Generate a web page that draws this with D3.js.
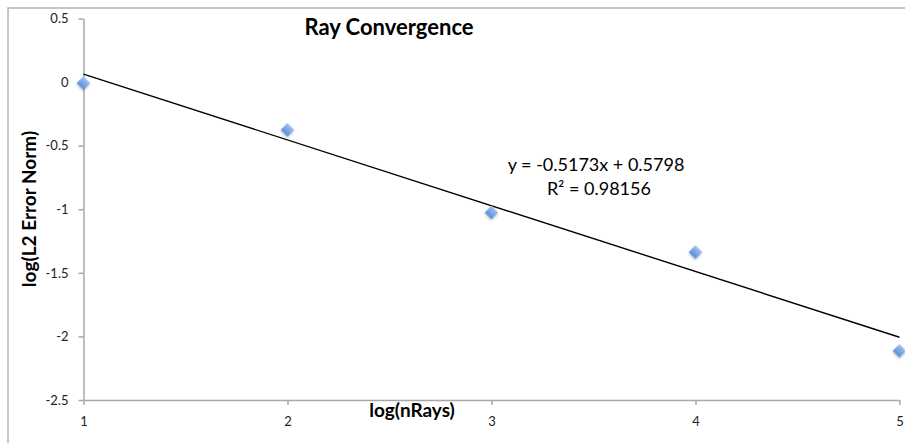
<!DOCTYPE html>
<html>
<head>
<meta charset="utf-8">
<script src="https://cdn.jsdelivr.net/npm/d3@7"></script>
<style>
  html, body { margin: 0; padding: 0; background: #fff; overflow: hidden; }
  svg { display: block; }
  .axis path, .axis line { stroke: #a8a8a8; stroke-width: 1.5; }
  .axis text { font-family: Lato, "Open Sans", sans-serif; font-size: 13px; fill: #222; }
</style>
</head>
<body>
<svg id="chart" width="905" height="443"></svg>
<script>
// Convergence study: log of ray count vs log of L2 error norm
const nRaysLog = [1, 2, 3, 4, 5];
const errorNormLog = [-0.008, -0.376, -1.026, -1.337, -2.114];

// Linear trendline as reported in the equation label
const trendSlope = -0.5173;
const trendIntercept = 0.5798;
const trendR2 = "0.98156";

const xTickValues = [1, 2, 3, 4, 5];
const yTickValues = [-2.5, -2, -1.5, -1, -0.5, 0, 0.5];

const titleText = "Ray Convergence";
const xTitle = "log(nRays)";
const yTitle = "log(L2 Error Norm)";

const svg = d3.select("#chart");

// Outer chart frame: only its top and left edges fall inside the view
svg.append("path")
  .attr("d", "M8,443 L8,8 L905,8")
  .attr("fill", "none")
  .attr("stroke", "#b4b4b4")
  .attr("stroke-width", 1.5);

const x = d3.scaleLinear().domain([1, 5]).range([83.5, 899.5]);
const y = d3.scaleLinear().domain([-2.5, 0.5]).range([400, 18.5]);

// Marker gradient + soft shadow
const defs = svg.append("defs");
const grad = defs.append("linearGradient")
  .attr("id", "mk").attr("x1", 0).attr("y1", 0).attr("x2", 0).attr("y2", 1);
grad.append("stop").attr("offset", "0%").attr("stop-color", "#9cc0ee");
grad.append("stop").attr("offset", "100%").attr("stop-color", "#5a8ed6");
const sh = defs.append("filter").attr("id", "shadow")
  .attr("x", "-50%").attr("y", "-50%").attr("width", "200%").attr("height", "200%");
sh.append("feDropShadow").attr("dx", 0.8).attr("dy", 1.2)
  .attr("stdDeviation", 1).attr("flood-color", "#000").attr("flood-opacity", 0.25);

// Axes (labels use a plain hyphen for negatives)
const yAxis = d3.axisLeft(y)
  .tickValues(yTickValues)
  .tickSize(5).tickSizeOuter(0).tickPadding(10)
  .tickFormat(d => String(d));
svg.append("g").attr("class", "axis")
  .attr("transform", `translate(${x(1)},0)`)
  .call(yAxis);

const xAxis = d3.axisBottom(x)
  .tickValues(xTickValues)
  .tickSize(5).tickSizeOuter(0).tickPadding(12)
  .tickFormat(d => String(d));
svg.append("g").attr("class", "axis")
  .attr("transform", `translate(0,${y(-2.5)})`)
  .call(xAxis);

// Trendline
const xDom = x.domain();
svg.append("line")
  .attr("x1", x(xDom[0])).attr("y1", y(trendSlope * xDom[0] + trendIntercept))
  .attr("x2", x(xDom[1])).attr("y2", y(trendSlope * xDom[1] + trendIntercept))
  .attr("stroke", "#000").attr("stroke-width", 1.4);

// Data markers (diamonds)
svg.append("g").selectAll("path")
  .data(nRaysLog.map((v, i) => [v, errorNormLog[i]]))
  .join("path")
  .attr("d", d3.symbol(d3.symbolSquare, 92)())
  .attr("transform", d => `translate(${x(d[0])},${y(d[1])}) rotate(45)`)
  .attr("fill", "url(#mk)")
  .attr("filter", "url(#shadow)");

// Titles
const font = 'Lato, "Open Sans", sans-serif';
svg.append("text")
  .attr("x", 389).attr("y", 35)
  .attr("text-anchor", "middle")
  .attr("font-family", font).attr("font-weight", "bold").attr("font-size", 22)
  .attr("fill", "#000")
  .text(titleText);

svg.append("text")
  .attr("x", 412).attr("y", 417)
  .attr("text-anchor", "middle")
  .attr("font-family", font).attr("font-weight", "bold").attr("font-size", 19)
  .attr("fill", "#000")
  .text(xTitle);

svg.append("text")
  .attr("transform", "translate(36,209) rotate(-90)")
  .attr("text-anchor", "middle")
  .attr("font-family", font).attr("font-weight", "bold").attr("font-size", 19)
  .attr("fill", "#000")
  .text(yTitle);

// Trendline equation
const fmtSlope = trendSlope.toFixed(4);
const fmtInt = trendIntercept.toFixed(4);
const eq = svg.append("text")
  .attr("text-anchor", "middle")
  .attr("font-family", font).attr("font-size", 18)
  .attr("fill", "#000");
eq.append("tspan").attr("x", 596).attr("y", 171)
  .text(`y = ${fmtSlope}x ${trendIntercept < 0 ? "-" : "+"} ${fmtInt.replace("-", "")}`);
eq.append("tspan").attr("x", 599).attr("y", 195)
  .text(`R² = ${trendR2}`);
</script>
</body>
</html>
